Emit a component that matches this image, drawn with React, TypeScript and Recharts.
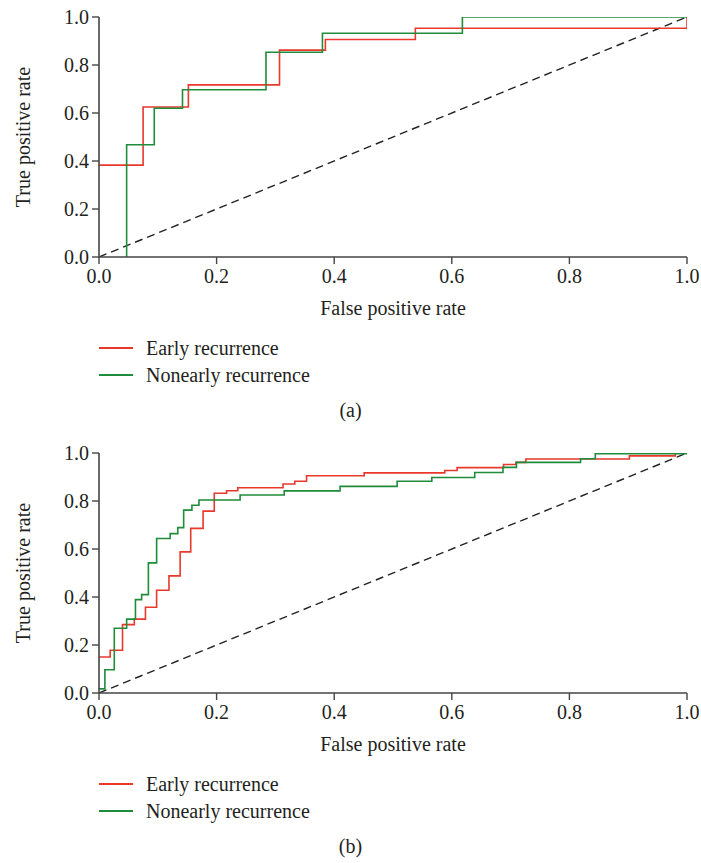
import React from 'react';
import { LineChart, Line, XAxis, YAxis } from 'recharts';

const FONT = '"Liberation Serif", "Times New Roman", serif';
const RED = '#e8392b';
const GREEN = '#1e8c3a';
const AXIS = '#454545';
const TEXT = '#231f20';

const axisTicks = [0, 0.2, 0.4, 0.6, 0.8, 1.0];
const seriesNames = ['Early recurrence', 'Nonearly recurrence'];
const captions = ['(a)', '(b)'];

// Panel (a) — ROC step curves: start point, then FPR where TPR jumps and TPR after the jump
const aEarlyStart = [0, 0.383];
const aEarlyJumpX = [0.075, 0.152, 0.307, 0.385, 0.538, 1.0];
const aEarlyJumpY = [0.625, 0.717, 0.862, 0.906, 0.953, 1.0];

const aNonStart = [0.047, 0];
const aNonJumpX = [0.047, 0.094, 0.142, 0.284, 0.38, 0.618];
const aNonJumpY = [0.468, 0.62, 0.697, 0.853, 0.932, 1.0];

// Panel (b)
const bEarlyStart = [0, 0.15];
const bEarlyJumpX = [0.019, 0.04, 0.06, 0.079, 0.098, 0.119, 0.138, 0.156, 0.177, 0.196, 0.217, 0.236, 0.313, 0.333, 0.353, 0.451, 0.588, 0.609, 0.688, 0.709, 0.726, 0.902, 0.98];
const bEarlyJumpY = [0.178, 0.285, 0.308, 0.357, 0.428, 0.488, 0.588, 0.686, 0.758, 0.832, 0.843, 0.855, 0.871, 0.882, 0.905, 0.917, 0.927, 0.939, 0.952, 0.961, 0.975, 0.988, 1.0];

const bNonStart = [0, 0.017];
const bNonJumpX = [0.01, 0.026, 0.047, 0.062, 0.0725, 0.084, 0.098, 0.121, 0.134, 0.144, 0.158, 0.17, 0.24, 0.315, 0.41, 0.507, 0.566, 0.639, 0.687, 0.71, 0.819, 0.844];
const bNonJumpY = [0.097, 0.27, 0.308, 0.389, 0.41, 0.542, 0.644, 0.664, 0.689, 0.762, 0.782, 0.804, 0.825, 0.842, 0.861, 0.882, 0.898, 0.919, 0.94, 0.961, 0.976, 0.997];

const diagonalX = [0, 1];
const diagonalY = [0, 1];

type Pt = { x: number; y: number };

function buildSteps(start: number[], jx: number[], jy: number[]): Pt[] {
  const pts: Pt[] = [{ x: start[0], y: start[1] }];
  let prev = start[1];
  jx.forEach((x, i) => {
    pts.push({ x, y: prev });
    pts.push({ x, y: jy[i] });
    prev = jy[i];
  });
  pts.push({ x: 1, y: prev });
  if (prev < 1) pts.push({ x: 1, y: 1 });
  return pts;
}

const diagonal: Pt[] = diagonalX.map((x, i) => ({ x, y: diagonalY[i] }));

const fmt = (v: number) => v.toFixed(1);

function Panel({ top, early, non, caption }: { top: number; early: Pt[]; non: Pt[]; caption: string }) {
  const tickStyle = { fill: TEXT, fontSize: 20, fontFamily: FONT };
  return (
    <div style={{ position: 'absolute', left: 0, top, width: 701, height: 430 }}>
      <LineChart width={701} height={340} margin={{ top: 17, right: 14, bottom: 0, left: 0 }}>
        <XAxis
          dataKey="x"
          type="number"
          domain={[0, 1]}
          ticks={axisTicks}
          tickFormatter={fmt}
          allowDataOverflow
          height={83}
          tickSize={7}
          tickMargin={5}
          stroke={AXIS}
          axisLine={{ stroke: AXIS, strokeWidth: 1.6 }}
          tickLine={{ stroke: AXIS, strokeWidth: 1.4 }}
          tick={tickStyle}
          label={{ value: 'False positive rate', position: 'insideTop', offset: 44, fill: TEXT, fontSize: 20, fontFamily: FONT }}
        />
        <YAxis
          dataKey="y"
          type="number"
          domain={[0, 1]}
          ticks={axisTicks}
          tickFormatter={fmt}
          allowDataOverflow
          width={99}
          tickSize={7}
          tickMargin={3}
          stroke={AXIS}
          axisLine={{ stroke: AXIS, strokeWidth: 1.6 }}
          tickLine={{ stroke: AXIS, strokeWidth: 1.4 }}
          tick={tickStyle}
          label={{ value: 'True positive rate', angle: -90, position: 'center', dx: -27, fill: TEXT, fontSize: 20, fontFamily: FONT }}
        />
        <Line data={diagonal} dataKey="y" type="linear" stroke="#222" strokeWidth={1.4} strokeDasharray="8 5" dot={false} isAnimationActive={false} />
        <Line data={early} dataKey="y" name={seriesNames[0]} type="linear" stroke={RED} strokeWidth={1.6} dot={false} isAnimationActive={false} />
        <Line data={non} dataKey="y" name={seriesNames[1]} type="linear" stroke={GREEN} strokeWidth={1.6} dot={false} isAnimationActive={false} />
      </LineChart>
      {[RED, GREEN].map((c, i) => (
        <div key={i} style={{ position: 'absolute', left: 99, top: 337 + i * 27, height: 22, display: 'flex', alignItems: 'center', fontFamily: FONT, fontSize: 20, color: TEXT, whiteSpace: 'nowrap' }}>
          <div style={{ width: 34, height: 1.3, background: c, marginRight: 13 }} />
          <span>{seriesNames[i]}</span>
        </div>
      ))}
      <div style={{ position: 'absolute', left: 0, width: 701, top: 399, textAlign: 'center', fontFamily: FONT, fontSize: 20, color: TEXT, lineHeight: '22px' }}>
        {caption}
      </div>
    </div>
  );
}

export default function App() {
  return (
    <div style={{ position: 'absolute', left: 0, top: 0, width: 701, height: 863, background: '#fff' }}>
      <Panel top={0} early={buildSteps(aEarlyStart, aEarlyJumpX, aEarlyJumpY)} non={buildSteps(aNonStart, aNonJumpX, aNonJumpY)} caption={captions[0]} />
      <Panel top={436} early={buildSteps(bEarlyStart, bEarlyJumpX, bEarlyJumpY)} non={buildSteps(bNonStart, bNonJumpX, bNonJumpY)} caption={captions[1]} />
    </div>
  );
}
